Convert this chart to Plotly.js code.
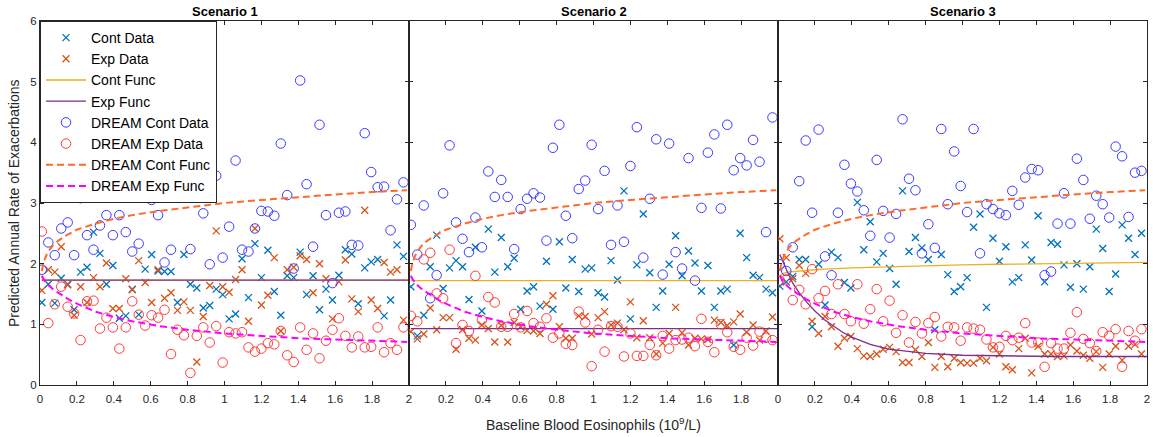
<!DOCTYPE html>
<html>
<head>
<meta charset="utf-8">
<script src="https://cdn.plot.ly/plotly-3.0.1.min.js"></script>
<style>
  html, body { margin: 0; padding: 0; background: #ffffff; }
  #chart { width: 1153px; height: 437px; }
</style>
</head>
<body>
<div id="chart"></div>
<script>
// Baseline eosinophil grid shared by every scatter series (10^9/L)
const eosGrid = [0.01, 0.045, 0.08, 0.115, 0.15, 0.185, 0.22, 0.255, 0.29, 0.325,
  0.36, 0.395, 0.43, 0.465, 0.5, 0.535, 0.57, 0.605, 0.64, 0.675,
  0.71, 0.745, 0.78, 0.815, 0.85, 0.885, 0.92, 0.955, 0.99, 1.025,
  1.06, 1.095, 1.13, 1.165, 1.2, 1.235, 1.27, 1.305, 1.34, 1.375,
  1.41, 1.445, 1.48, 1.515, 1.55, 1.585, 1.62, 1.655, 1.69, 1.725,
  1.76, 1.795, 1.83, 1.865, 1.9, 1.935, 1.97];

// Scenario 1
const s1ContData = [1.36, 1.66, 1.35, 1.76, 1.66, 1.24, 1.86, 1.94, 2.52, 2.17,
  1.66, 1.97, 1.10, 1.14, 1.58, 1.16, 1.91, 2.15, 1.88, 1.87,
  1.87, 1.36, 2.15, 1.66, 1.60, 1.27, 1.31, 1.58, 1.49, 1.09,
  1.17, 2.08, 1.44, 2.33, 1.77, 2.22, 1.54, 1.15, 1.80, 1.77,
  2.19, 1.49, 1.80, 1.24, 1.58, 1.40, 1.81, 2.23, 2.16, 1.34,
  1.93, 2.03, 2.07, 1.14, 1.40, 2.31, 2.12];
const s1ExpData = [1.56, 1.90, 1.86, 2.28, 1.65, 1.15, 1.62, 1.36, 1.77, 1.62,
  2.01, 1.26, 1.26, 1.75, 1.57, 2.05, 1.69, 1.36, 1.90, 1.43,
  1.52, 1.23, 1.37, 1.23, 0.38, 1.13, 1.64, 2.54, 1.62, 1.53,
  1.74, 1.90, 1.05, 2.58, 1.32, 1.48, 2.10, 0.89, 1.90, 1.94,
  2.13, 2.07, 1.52, 2.00, 1.75, 1.09, 1.70, 2.06, 1.42, 1.21,
  2.88, 1.40, 1.26, 2.02, 1.86, 1.90, 1.07];
const s1DreamContData = [1.90, 2.35, 2.14, 2.58, 2.68, 2.14, 3.08, 2.47, 2.23, 2.63,
  2.80, 2.47, 2.80, 2.52, 2.20, 2.33, 3.60, 3.05, 2.80, 2.02,
  2.23, 3.60, 3.15, 2.24, 3.35, 2.83, 1.99, 3.45, 2.10, 2.61,
  3.70, 2.23, 2.20, 2.58, 2.87, 2.86, 2.79, 3.98, 3.13, 1.92,
  5.02, 3.31, 2.28, 4.29, 2.80, 1.68, 2.84, 2.86, 2.31, 2.30,
  4.15, 3.51, 3.26, 3.27, 2.55, 3.06, 3.34];
const s1DreamExpData = [2.53, 1.02, 1.33, 1.62, 1.29, 1.18, 0.74, 1.38, 1.39, 0.93,
  1.11, 0.95, 0.60, 0.95, 1.38, 1.16, 0.98, 1.15, 1.11, 1.24,
  0.51, 0.91, 0.82, 0.20, 0.81, 0.95, 0.70, 0.97, 0.37, 0.87,
  0.85, 0.87, 0.62, 0.55, 0.60, 0.69, 0.67, 0.89, 0.49, 0.38,
  0.95, 0.58, 0.85, 0.44, 0.73, 0.91, 1.10, 0.81, 0.62, 0.80,
  0.62, 0.63, 0.95, 0.54, 0.69, 0.58, 0.95];

// Scenario 2
const s2ContData = [1.62, 0.81, 1.15, 1.95, 2.47, 1.59, 1.93, 2.05, 1.95, 1.41,
  2.27, 1.22, 2.57, 1.86, 2.43, 1.95, 2.09, 1.25, 1.55, 1.62,
  1.30, 2.04, 1.25, 2.36, 1.60, 2.07, 1.54, 1.91, 1.93, 1.52,
  1.45, 2.05, 1.73, 3.20, 1.09, 1.98, 2.82, 1.85, 1.28, 1.55,
  1.99, 2.46, 1.80, 2.21, 2.01, 1.55, 1.97, 1.28, 1.55, 1.58,
  0.66, 2.50, 2.10, 1.81, 1.77, 1.58, 1.52];
const s2ExpData = [0.88, 0.76, 0.84, 1.27, 0.91, 1.11, 1.11, 0.59, 0.91, 0.77,
  0.74, 0.99, 0.93, 0.71, 0.98, 0.71, 1.03, 0.96, 0.90, 0.89,
  0.85, 1.33, 1.47, 0.96, 0.77, 0.77, 1.14, 1.13, 0.84, 1.11,
  1.21, 0.99, 1.02, 0.91, 1.37, 0.78, 1.06, 0.78, 0.51, 0.69,
  0.85, 1.28, 0.86, 0.66, 0.77, 0.76, 0.75, 1.07, 1.03, 0.98,
  1.04, 1.17, 0.87, 0.99, 0.74, 0.89, 1.12];
const s2DreamContData = [2.64, 2.15, 2.96, 1.43, 1.81, 3.16, 3.95, 2.68, 2.41, 2.19,
  2.76, 2.27, 3.52, 3.10, 3.38, 3.10, 2.24, 2.90, 3.07, 3.16,
  3.09, 2.38, 3.91, 4.29, 2.79, 2.42, 3.23, 3.37, 3.96, 2.90,
  3.53, 2.31, 2.96, 2.36, 3.61, 4.25, 2.10, 3.07, 4.05, 1.82,
  3.98, 2.19, 1.92, 3.74, 1.72, 2.92, 3.83, 4.13, 2.91, 4.29,
  3.54, 3.74, 3.62, 4.04, 3.68, 2.52, 4.41];
const s2DreamExpData = [1.14, 1.05, 2.07, 2.18, 1.51, 1.43, 2.23, 0.69, 0.99, 0.89,
  1.80, 1.07, 1.45, 1.36, 0.96, 0.96, 1.17, 0.95, 1.22, 1.02,
  0.96, 1.10, 0.78, 0.85, 0.68, 0.66, 1.21, 1.03, 0.31, 0.91,
  0.55, 0.97, 0.96, 0.47, 0.85, 0.48, 0.48, 0.66, 0.49, 0.81,
  0.60, 0.74, 0.75, 0.78, 0.64, 1.09, 0.71, 0.54, 1.00, 0.87,
  0.63, 0.58, 0.78, 0.65, 0.88, 0.78, 0.74];

// Scenario 3
const s3ContData = [1.63, 1.70, 1.79, 2.07, 2.07, 0.96, 1.99, 1.32, 2.19, 2.10,
  1.69, 1.60, 3.01, 2.23, 2.69, 2.03, 2.17, 1.92, 1.66, 3.20,
  2.20, 2.43, 2.26, 2.07, 0.91, 2.15, 1.82, 1.54, 1.62, 1.77,
  2.60, 2.82, 1.28, 2.42, 2.04, 2.28, 1.70, 1.77, 2.31, 2.06,
  2.79, 1.70, 2.35, 2.32, 1.98, 1.61, 2.00, 1.58, 1.95, 2.57,
  2.25, 1.54, 1.83, 2.64, 2.42, 2.15, 2.50];
const s3ExpData = [2.41, 2.10, 1.75, 1.97, 1.84, 1.05, 0.85, 1.13, 0.96, 0.64,
  0.77, 0.80, 0.60, 0.48, 0.47, 0.51, 0.59, 0.62, 0.55, 0.37,
  0.37, 0.58, 0.47, 0.70, 0.29, 0.47, 0.30, 0.44, 0.37, 0.36,
  0.36, 0.44, 0.40, 0.62, 0.51, 0.30, 0.25, 0.60, 0.77, 0.20,
  0.64, 0.51, 0.51, 0.47, 0.48, 0.66, 0.56, 0.49, 0.44, 0.55,
  0.29, 0.51, 0.64, 0.41, 0.64, 0.67, 0.51];
const s3DreamContData = [1.99, 1.88, 2.27, 3.36, 4.03, 2.84, 4.21, 2.12, 1.81, 2.84,
  3.63, 3.32, 3.19, 2.88, 2.46, 3.71, 2.87, 2.43, 2.82, 4.38,
  3.40, 3.21, 2.17, 2.65, 2.26, 4.22, 2.98, 3.85, 3.28, 2.85,
  4.22, 2.17, 2.98, 2.90, 2.83, 2.80, 3.20, 2.97, 3.42, 3.56,
  3.54, 1.81, 1.87, 2.66, 3.16, 2.66, 3.73, 3.38, 2.74, 3.12,
  2.98, 2.76, 3.93, 3.77, 2.77, 3.50, 3.53];
const s3DreamExpData = [1.72, 1.74, 1.40, 1.57, 1.33, 1.91, 1.43, 1.55, 1.17, 1.66,
  1.17, 1.05, 1.66, 1.01, 1.25, 1.58, 1.05, 1.39, 0.86, 1.15,
  0.70, 1.04, 0.85, 1.02, 1.12, 0.80, 0.96, 0.95, 0.73, 0.95,
  0.93, 0.91, 0.75, 0.62, 0.63, 0.81, 0.74, 0.78, 1.02, 0.70,
  0.70, 0.30, 0.69, 0.60, 0.60, 0.86, 1.20, 0.76, 0.69, 0.56,
  0.87, 0.81, 0.92, 0.30, 0.89, 0.73, 0.92];

// Fitted functions
const flatFuncX = [0.01, 2.0];
const s1ContFunc = [1.73, 1.73];
const s1ExpFunc = [1.73, 1.73];
const s2ContFunc = [1.72, 1.72];
const s2ExpFunc = [0.93, 0.93];
const s3FuncX = [0.01, 0.03, 0.05, 0.08, 0.12, 0.16, 0.2, 0.25, 0.3, 0.35,
  0.4, 0.5, 0.6, 0.7, 0.8, 1.0, 1.2, 1.5, 1.75, 2.0];
const s3ContFunc = [1.80, 1.84, 1.86, 1.87, 1.88, 1.89, 1.90, 1.91, 1.92, 1.93,
  1.93, 1.94, 1.95, 1.96, 1.96, 1.98, 1.99, 2.00, 2.01, 2.02];
const s3ExpFunc = [2.15, 2.00, 1.87, 1.68, 1.50, 1.35, 1.22, 1.08, 0.97, 0.87,
  0.79, 0.67, 0.59, 0.55, 0.52, 0.49, 0.48, 0.47, 0.47, 0.47];
const dreamFuncX = [0.01, 0.02, 0.04, 0.07, 0.1, 0.15, 0.2, 0.3, 0.4, 0.5,
  0.65, 0.8, 1.0, 1.2, 1.4, 1.6, 1.8, 1.99];
const dreamContFunc = [1.88, 2.03, 2.18, 2.30, 2.38, 2.48, 2.56, 2.66, 2.74, 2.80,
  2.87, 2.93, 3.00, 3.05, 3.10, 3.14, 3.18, 3.21];
const dreamExpFunc = [1.80, 1.74, 1.66, 1.58, 1.52, 1.42, 1.34, 1.21, 1.12, 1.05,
  0.97, 0.91, 0.85, 0.81, 0.77, 0.75, 0.73, 0.71];

const scenarioTitles = ['Scenario 1', 'Scenario 2', 'Scenario 3'];
const xTickVals = [0, 0.2, 0.4, 0.6, 0.8, 1, 1.2, 1.4, 1.6, 1.8, 2];
const xTickText = ['0', '0.2', '0.4', '0.6', '0.8', '1', '1.2', '1.4', '1.6', '1.8', '2'];
const xTickValsMiddle = [0.2, 0.4, 0.6, 0.8, 1, 1.2, 1.4, 1.6, 1.8];
const xTickTextMiddle = ['0.2', '0.4', '0.6', '0.8', '1', '1.2', '1.4', '1.6', '1.8'];
const yTickVals = [0, 1, 2, 3, 4, 5, 6];

const scenarios = [
  { cont: s1ContData, exp: s1ExpData, dCont: s1DreamContData, dExp: s1DreamExpData,
    fx: flatFuncX, cf: s1ContFunc, ef: s1ExpFunc },
  { cont: s2ContData, exp: s2ExpData, dCont: s2DreamContData, dExp: s2DreamExpData,
    fx: flatFuncX, cf: s2ContFunc, ef: s2ExpFunc },
  { cont: s3ContData, exp: s3ExpData, dCont: s3DreamContData, dExp: s3DreamExpData,
    fx: s3FuncX, cf: s3ContFunc, ef: s3ExpFunc }
];

const FONT = 'Liberation Sans, Arial, Helvetica, sans-serif';
const AXIS_COLOR = '#262626';
const dashPattern = '7px,4px';

const traces = [];
scenarios.forEach((s, i) => {
  const xa = i === 0 ? 'x' : 'x' + (i + 1);
  const ya = i === 0 ? 'y' : 'y' + (i + 1);
  const legend = i === 0;
  traces.push({ type: 'scatter', mode: 'markers', name: 'Cont Data', x: eosGrid, y: s.cont,
    xaxis: xa, yaxis: ya, showlegend: legend, legendgroup: 'cd',
    marker: { symbol: 'x-thin-open', size: 7, color: '#0072BD', line: { width: 1.3 } } });
  traces.push({ type: 'scatter', mode: 'markers', name: 'Exp Data', x: eosGrid, y: s.exp,
    xaxis: xa, yaxis: ya, showlegend: legend, legendgroup: 'ed',
    marker: { symbol: 'x-thin-open', size: 7, color: '#D95319', line: { width: 1.3 } } });
  traces.push({ type: 'scatter', mode: 'lines', name: 'Cont Func', x: s.fx, y: s.cf,
    xaxis: xa, yaxis: ya, showlegend: legend, legendgroup: 'cf',
    line: { color: '#EDB120', width: 1.3 } });
  traces.push({ type: 'scatter', mode: 'lines', name: 'Exp Func', x: s.fx, y: s.ef,
    xaxis: xa, yaxis: ya, showlegend: legend, legendgroup: 'ef',
    line: { color: '#7E2F8E', width: 1.3 } });
  traces.push({ type: 'scatter', mode: 'markers', name: 'DREAM Cont Data', x: eosGrid, y: s.dCont,
    xaxis: xa, yaxis: ya, showlegend: legend, legendgroup: 'dcd',
    marker: { symbol: 'circle-open', size: 9.5, color: '#3a3aff', line: { width: 1 } } });
  traces.push({ type: 'scatter', mode: 'markers', name: 'DREAM Exp Data', x: eosGrid, y: s.dExp,
    xaxis: xa, yaxis: ya, showlegend: legend, legendgroup: 'ded',
    marker: { symbol: 'circle-open', size: 9.5, color: '#ff3a3a', line: { width: 1 } } });
  traces.push({ type: 'scatter', mode: 'lines', name: 'DREAM Cont Func', x: dreamFuncX, y: dreamContFunc,
    xaxis: xa, yaxis: ya, showlegend: legend, legendgroup: 'dcf',
    line: { color: '#FF6A2B', width: 2, dash: dashPattern } });
  traces.push({ type: 'scatter', mode: 'lines', name: 'DREAM Exp Func', x: dreamFuncX, y: dreamExpFunc,
    xaxis: xa, yaxis: ya, showlegend: legend, legendgroup: 'def',
    line: { color: '#FF00FF', width: 2, dash: dashPattern } });
});

function xAxis(i) {
  return {
    domain: [i / 3, (i + 1) / 3],
    anchor: i === 0 ? 'y' : 'y' + (i + 1),
    range: [0, 2],
    tickmode: 'array',
    tickvals: i === 1 ? xTickValsMiddle : xTickVals,
    ticktext: i === 1 ? xTickTextMiddle : xTickText,
    ticks: 'inside', ticklen: 4, tickwidth: 1, tickcolor: AXIS_COLOR,
    ticklabelstandoff: 3,
    showline: true, linecolor: AXIS_COLOR, linewidth: 1, mirror: 'ticks',
    showgrid: false, zeroline: false,
    tickfont: { family: FONT, size: 11.5, color: AXIS_COLOR }
  };
}
function yAxis(i) {
  return {
    domain: [0, 1],
    anchor: i === 0 ? 'x' : 'x' + (i + 1),
    range: [0, 6],
    tickmode: 'array',
    tickvals: yTickVals,
    showticklabels: i === 0,
    ticks: 'inside', ticklen: 4, tickwidth: 1, tickcolor: AXIS_COLOR,
    showline: true, linecolor: AXIS_COLOR, linewidth: 1, mirror: 'ticks',
    showgrid: false, zeroline: false,
    tickfont: { family: FONT, size: 11.5, color: AXIS_COLOR }
  };
}

const annotations = scenarioTitles.map((t, i) => ({
  text: '<b>' + t + '</b>', xref: 'paper', yref: 'paper',
  x: (i + 0.5) / 3, y: 1, xanchor: 'center', yanchor: 'bottom', yshift: 0,
  showarrow: false, font: { family: FONT, size: 13, color: '#000000' }
}));
annotations.push({
  text: 'Baseline Blood Eosinophils (10<sup>9</sup>/L)', xref: 'paper', yref: 'paper',
  x: 0.5, y: 0, xanchor: 'center', yanchor: 'top', yshift: -28,
  showarrow: false, font: { family: FONT, size: 14, color: AXIS_COLOR }
});
annotations.push({
  text: 'Predicted Annual Rate of Exacerbations', xref: 'paper', yref: 'paper',
  x: 0, y: 0.5, xanchor: 'center', yanchor: 'middle', xshift: -26, textangle: -90,
  showarrow: false, font: { family: FONT, size: 14, color: AXIS_COLOR }
});

const layout = {
  width: 1153, height: 437,
  margin: { l: 40, r: 6, t: 21, b: 52 },
  paper_bgcolor: '#ffffff', plot_bgcolor: '#ffffff',
  font: { family: FONT, color: AXIS_COLOR },
  showlegend: true,
  legend: {
    x: 0, y: 1, xanchor: 'left', yanchor: 'top',
    bgcolor: '#ffffff', bordercolor: AXIS_COLOR, borderwidth: 1,
    font: { family: FONT, size: 14, color: '#000000' },
    itemwidth: 40, tracegroupgap: 0
  },
  xaxis: xAxis(0), yaxis: yAxis(0),
  xaxis2: xAxis(1), yaxis2: yAxis(1),
  xaxis3: xAxis(2), yaxis3: yAxis(2),
  annotations: annotations
};

Plotly.newPlot('chart', traces, layout, { displayModeBar: false, staticPlot: true });
</script>
</body>
</html>
